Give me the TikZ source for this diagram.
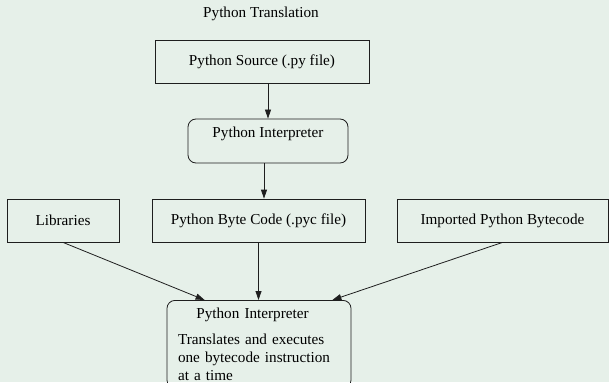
\documentclass[tikz,border=0pt]{standalone}
\usepackage{fontspec}
\setmainfont{Liberation Serif}
\usetikzlibrary{arrows.meta}
\definecolor{bgcol}{RGB}{230,240,233}
\definecolor{linecol}{RGB}{30,30,30}

\begin{document}
\begin{tikzpicture}[x=1pt,y=-1pt,
  font=\fontsize{15.2}{18}\selectfont,
  box/.style={draw=linecol, line width=0.8pt, minimum height=43pt, inner sep=0pt},
  roundbox/.style={box, rounded corners=8pt},
  arr/.style={draw=linecol, line width=0.8pt, -{Triangle[length=9pt,width=6pt]}}]
  % Background
  \useasboundingbox (0,0) rectangle (609,382);
  \fill[bgcol] (0,0) rectangle (609,382);
  \clip (0,0) rectangle (609,382);
  \node (title) at (261,14) {Python Translation};
  % Translation step
  \node[box, minimum width=214pt] (src) at (262,62) {Python Source (.py file)};
  \node[roundbox, minimum width=160pt, text height=10pt, text depth=16pt, inner ysep=9pt] (interp) at (268,141) {Python Interpreter};
  % Inputs
  \node[box, minimum width=112pt] (libs) at (63,220.5) {Libraries};
  \node[box, minimum width=213pt] (bytecode) at (258.5,220.5) {Python Byte Code (.pyc file)};
  \node[box, minimum width=211pt] (imported) at (502.5,220.5) {Imported Python Bytecode};
  % Execution
  \node[roundbox, anchor=north, text width=162pt, align=left, inner xsep=11pt, inner ysep=7.5pt] (exec) at (259,300)
    {\makebox[149pt]{Python Interpreter}\\[8pt]Translates and executes\\one bytecode instruction\\at a time};
  % Arrows
  \draw[arr] (interp.north |- src.south) -- (interp.north);
  \draw[arr] ([xshift=-4pt]interp.south) -- ([xshift=-4pt]interp.south |- bytecode.north);
  \draw[arr] (libs.south) -- ([xshift=38pt]exec.north west);
  \draw[arr] (bytecode.south) -- (bytecode.south |- exec.north);
  \draw[arr] (imported.south) -- ([xshift=-19pt]exec.north east);
\end{tikzpicture}
\end{document}
